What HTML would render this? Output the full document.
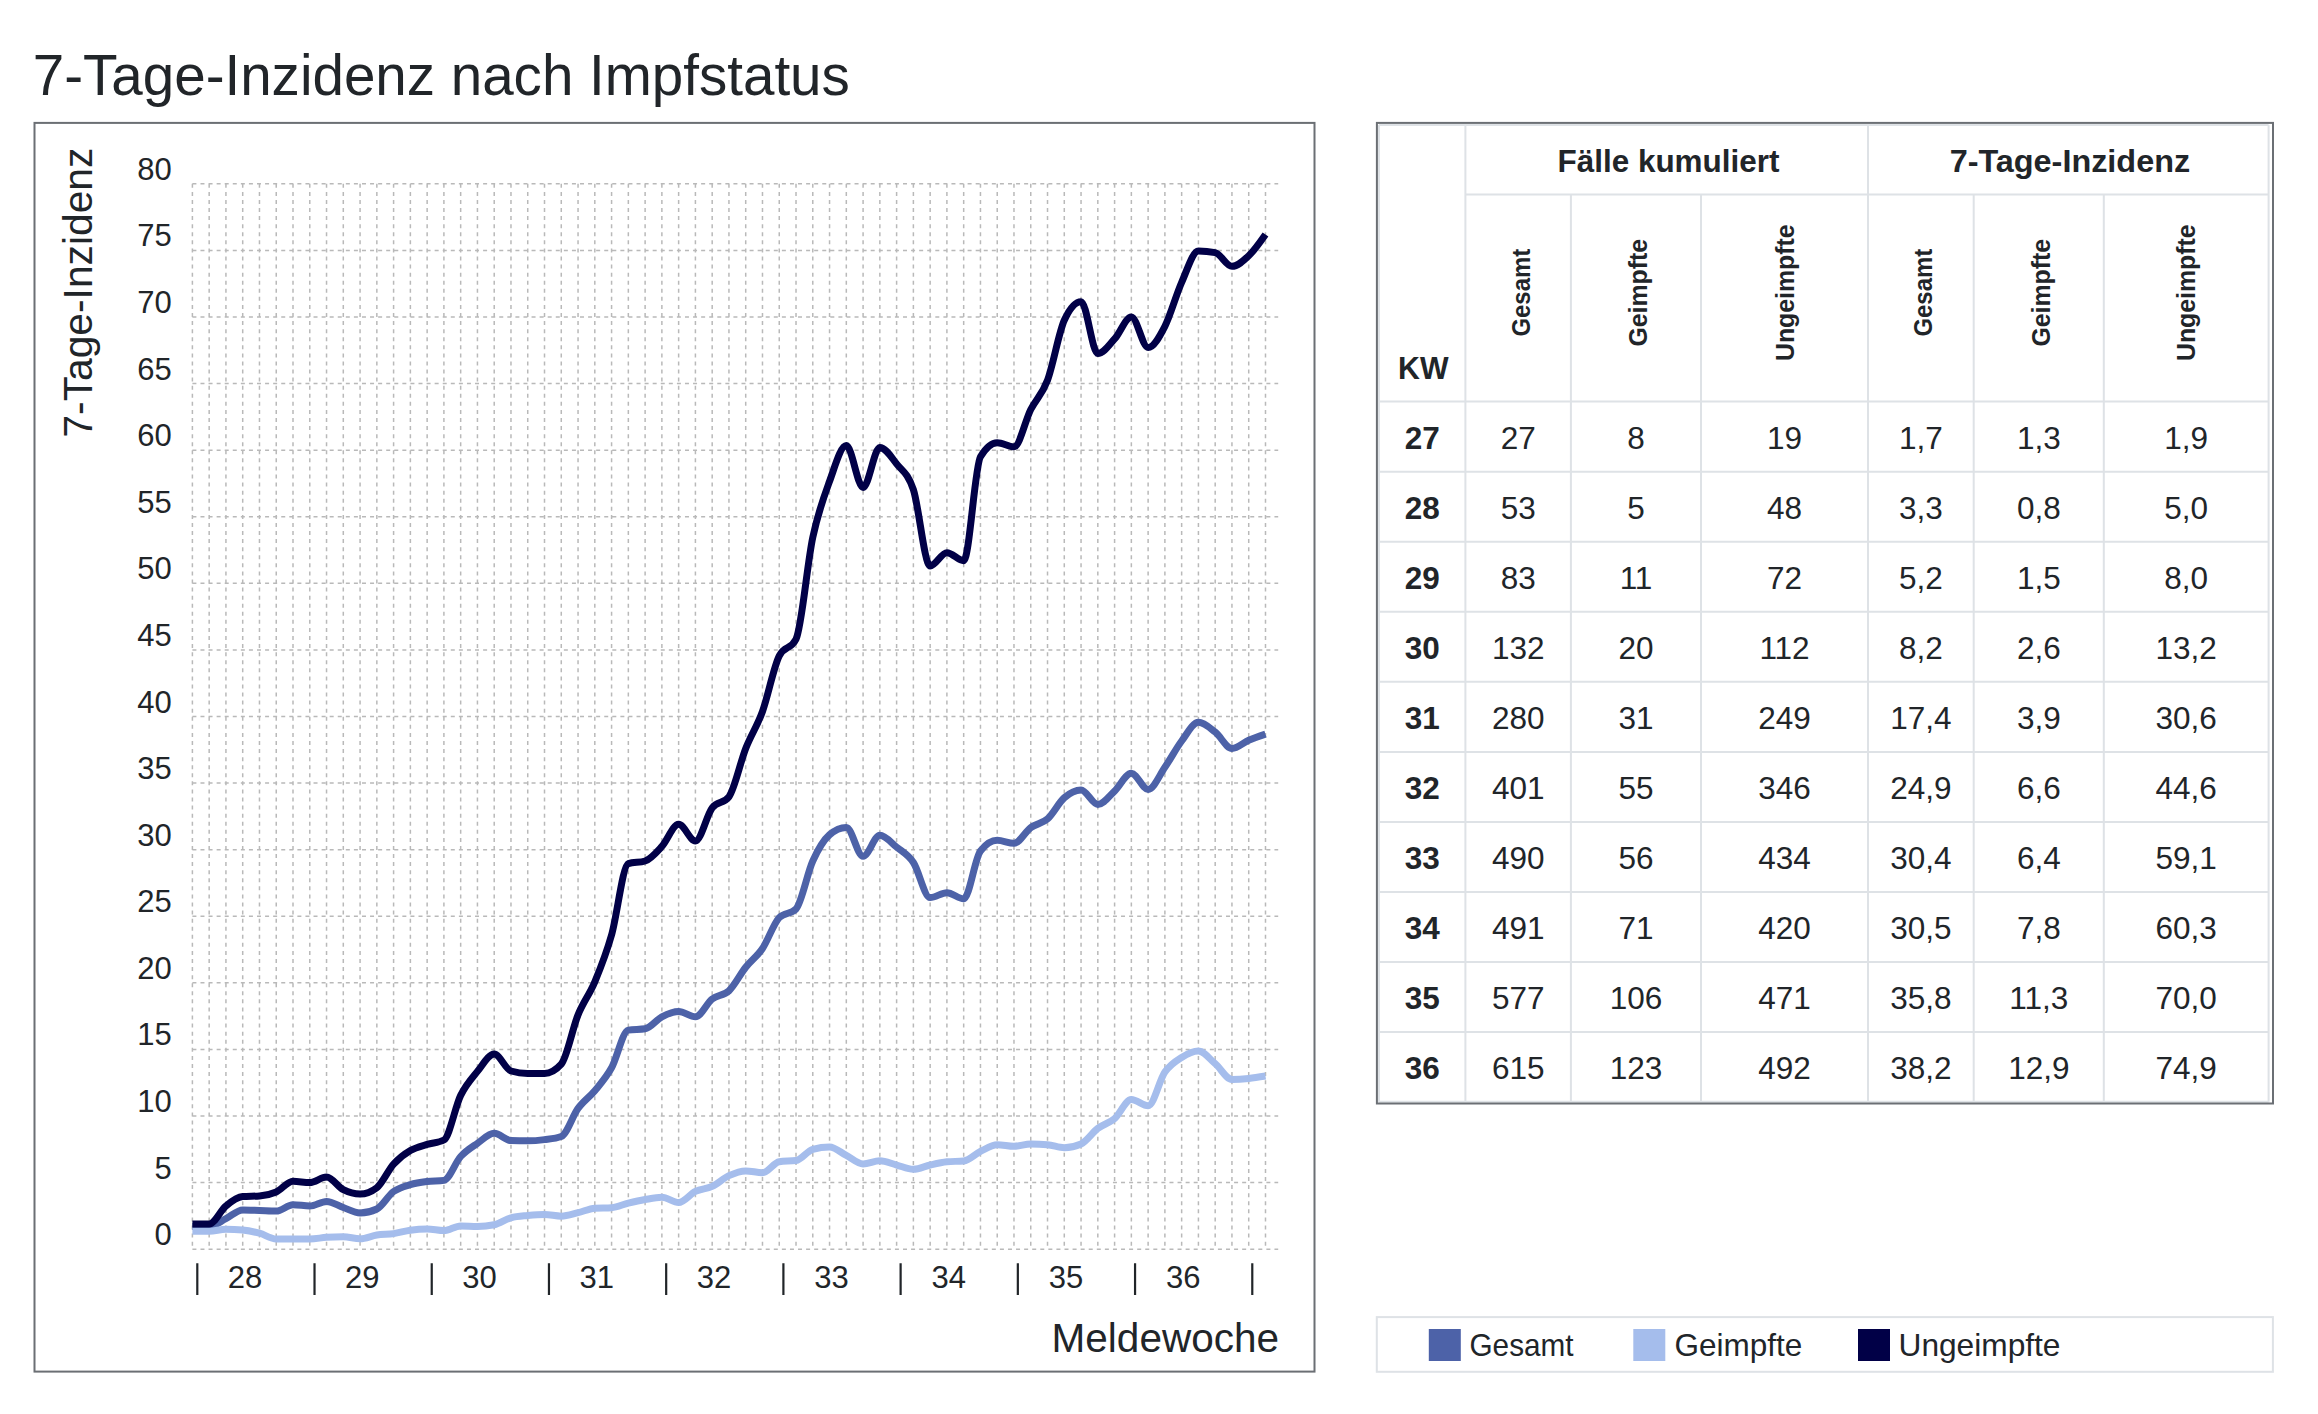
<!DOCTYPE html>
<html lang="de"><head><meta charset="utf-8"><title>7-Tage-Inzidenz nach Impfstatus</title>
<style>html,body{margin:0;padding:0;background:#fff;overflow:hidden}svg{display:block}text{font-family:'Liberation Sans', Arial, sans-serif;fill:#212529}</style>
</head><body>
<svg width="2318" height="1414" viewBox="0 0 2318 1414">
<rect width="2318" height="1414" fill="#fff"/>
<text x="32.8" y="94.9" font-size="57" textLength="817" lengthAdjust="spacingAndGlyphs">7-Tage-Inzidenz nach Impfstatus</text>
<rect x="34.5" y="122.9" width="1280" height="1248.7" fill="none" stroke="#6b6f74" stroke-width="2"/>
<path d="M192.4,1249.20H1278.2M192.4,1182.61H1278.2M192.4,1116.03H1278.2M192.4,1049.44H1278.2M192.4,982.85H1278.2M192.4,916.26H1278.2M192.4,849.67H1278.2M192.4,783.09H1278.2M192.4,716.50H1278.2M192.4,649.91H1278.2M192.4,583.33H1278.2M192.4,516.74H1278.2M192.4,450.15H1278.2M192.4,383.56H1278.2M192.4,316.98H1278.2M192.4,250.39H1278.2M192.4,183.80H1278.2M192.40,183.8V1249.2M209.17,183.8V1249.2M225.93,183.8V1249.2M242.70,183.8V1249.2M259.47,183.8V1249.2M276.24,183.8V1249.2M293.00,183.8V1249.2M309.77,183.8V1249.2M326.54,183.8V1249.2M343.30,183.8V1249.2M360.07,183.8V1249.2M376.84,183.8V1249.2M393.60,183.8V1249.2M410.37,183.8V1249.2M427.14,183.8V1249.2M443.90,183.8V1249.2M460.67,183.8V1249.2M477.44,183.8V1249.2M494.21,183.8V1249.2M510.97,183.8V1249.2M527.74,183.8V1249.2M544.51,183.8V1249.2M561.27,183.8V1249.2M578.04,183.8V1249.2M594.81,183.8V1249.2M611.58,183.8V1249.2M628.34,183.8V1249.2M645.11,183.8V1249.2M661.88,183.8V1249.2M678.64,183.8V1249.2M695.41,183.8V1249.2M712.18,183.8V1249.2M728.94,183.8V1249.2M745.71,183.8V1249.2M762.48,183.8V1249.2M779.25,183.8V1249.2M796.01,183.8V1249.2M812.78,183.8V1249.2M829.55,183.8V1249.2M846.31,183.8V1249.2M863.08,183.8V1249.2M879.85,183.8V1249.2M896.61,183.8V1249.2M913.38,183.8V1249.2M930.15,183.8V1249.2M946.91,183.8V1249.2M963.68,183.8V1249.2M980.45,183.8V1249.2M997.22,183.8V1249.2M1013.98,183.8V1249.2M1030.75,183.8V1249.2M1047.52,183.8V1249.2M1064.28,183.8V1249.2M1081.05,183.8V1249.2M1097.82,183.8V1249.2M1114.59,183.8V1249.2M1131.35,183.8V1249.2M1148.12,183.8V1249.2M1164.89,183.8V1249.2M1181.65,183.8V1249.2M1198.42,183.8V1249.2M1215.19,183.8V1249.2M1231.95,183.8V1249.2M1248.72,183.8V1249.2M1265.49,183.8V1249.2" fill="none" stroke="#b9b9b9" stroke-width="1.5" stroke-dasharray="4 4.075"/>
<text x="171.7" y="1245.2" font-size="31" text-anchor="end">0</text>
<text x="171.7" y="1178.6" font-size="31" text-anchor="end">5</text>
<text x="171.7" y="1112.0" font-size="31" text-anchor="end">10</text>
<text x="171.7" y="1045.4" font-size="31" text-anchor="end">15</text>
<text x="171.7" y="978.9" font-size="31" text-anchor="end">20</text>
<text x="171.7" y="912.3" font-size="31" text-anchor="end">25</text>
<text x="171.7" y="845.7" font-size="31" text-anchor="end">30</text>
<text x="171.7" y="779.1" font-size="31" text-anchor="end">35</text>
<text x="171.7" y="712.5" font-size="31" text-anchor="end">40</text>
<text x="171.7" y="645.9" font-size="31" text-anchor="end">45</text>
<text x="171.7" y="579.3" font-size="31" text-anchor="end">50</text>
<text x="171.7" y="512.7" font-size="31" text-anchor="end">55</text>
<text x="171.7" y="446.1" font-size="31" text-anchor="end">60</text>
<text x="171.7" y="379.6" font-size="31" text-anchor="end">65</text>
<text x="171.7" y="313.0" font-size="31" text-anchor="end">70</text>
<text x="171.7" y="246.4" font-size="31" text-anchor="end">75</text>
<text x="171.7" y="179.8" font-size="31" text-anchor="end">80</text>
<text transform="translate(91.5,437.6) rotate(-90)" font-size="41" textLength="290" lengthAdjust="spacingAndGlyphs">7-Tage-Inzidenz</text>
<path d="M197.30,1263.3V1295M314.52,1263.3V1295M431.74,1263.3V1295M548.96,1263.3V1295M666.18,1263.3V1295M783.40,1263.3V1295M900.62,1263.3V1295M1017.84,1263.3V1295M1135.06,1263.3V1295M1252.28,1263.3V1295" stroke="#212529" stroke-width="2.2" fill="none"/>
<text x="244.9" y="1288.1" font-size="31" text-anchor="middle">28</text>
<text x="362.2" y="1288.1" font-size="31" text-anchor="middle">29</text>
<text x="479.5" y="1288.1" font-size="31" text-anchor="middle">30</text>
<text x="596.8" y="1288.1" font-size="31" text-anchor="middle">31</text>
<text x="714.1" y="1288.1" font-size="31" text-anchor="middle">32</text>
<text x="831.4" y="1288.1" font-size="31" text-anchor="middle">33</text>
<text x="948.7" y="1288.1" font-size="31" text-anchor="middle">34</text>
<text x="1066.0" y="1288.1" font-size="31" text-anchor="middle">35</text>
<text x="1183.3" y="1288.1" font-size="31" text-anchor="middle">36</text>
<text x="1279" y="1351.6" font-size="40.5" text-anchor="end">Meldewoche</text>
<path d="M192.40,1226.56C197.99,1226.56 203.58,1226.56 209.17,1226.56C214.76,1226.56 220.34,1221.48 225.93,1218.70C231.52,1215.93 237.11,1209.91 242.70,1209.91C248.29,1209.91 253.88,1210.25 259.47,1210.45C265.06,1210.65 270.65,1211.11 276.24,1211.11C281.82,1211.11 287.41,1204.72 293.00,1204.72C298.59,1204.72 304.18,1205.92 309.77,1205.92C315.36,1205.92 320.95,1201.39 326.54,1201.39C332.12,1201.39 337.71,1205.59 343.30,1207.52C348.89,1209.45 354.48,1212.98 360.07,1212.98C365.66,1212.98 371.25,1211.64 376.84,1208.98C382.43,1206.32 388.02,1195.60 393.60,1191.54C399.19,1187.47 404.78,1186.27 410.37,1184.61C415.96,1182.95 421.55,1182.26 427.14,1181.55C432.73,1180.84 438.32,1181.15 443.90,1180.35C449.49,1179.55 455.08,1162.68 460.67,1156.51C466.26,1150.34 471.85,1147.19 477.44,1143.33C483.03,1139.46 488.62,1133.34 494.21,1133.34C499.80,1133.34 505.38,1140.35 510.97,1140.53C516.56,1140.71 522.15,1140.80 527.74,1140.80C533.33,1140.80 538.92,1140.31 544.51,1139.60C550.10,1138.89 555.68,1138.58 561.27,1136.53C566.86,1134.49 572.45,1116.07 578.04,1108.43C583.63,1100.80 589.22,1097.49 594.81,1090.72C600.40,1083.95 605.99,1077.91 611.58,1067.82C617.16,1057.72 622.75,1031.01 628.34,1030.13C633.93,1029.24 639.52,1029.68 645.11,1028.80C650.70,1027.91 656.29,1019.70 661.88,1016.81C667.47,1013.92 673.05,1011.48 678.64,1011.48C684.23,1011.48 689.82,1016.81 695.41,1016.81C701.00,1016.81 706.59,1003.29 712.18,998.96C717.77,994.64 723.35,996.12 728.94,990.84C734.53,985.56 740.12,974.33 745.71,967.27C751.30,960.21 756.89,956.77 762.48,948.49C768.07,940.21 773.66,923.37 779.25,917.59C784.83,911.82 790.42,914.71 796.01,908.94C801.60,903.17 807.19,873.36 812.78,860.99C818.37,848.63 823.96,839.64 829.55,834.76C835.13,829.88 840.72,827.43 846.31,827.43C851.90,827.43 857.49,856.33 863.08,856.33C868.67,856.33 874.26,835.29 879.85,835.29C885.44,835.29 891.02,842.62 896.61,847.14C902.20,851.67 907.79,854.05 913.38,862.46C918.97,870.87 924.56,897.62 930.15,897.62C935.74,897.62 941.33,892.69 946.91,892.69C952.50,892.69 958.09,898.82 963.68,898.82C969.27,898.82 974.86,858.11 980.45,851.01C986.04,843.90 991.63,840.35 997.22,840.35C1002.80,840.35 1008.39,843.28 1013.98,843.28C1019.57,843.28 1025.16,831.63 1030.75,827.57C1036.34,823.51 1041.93,823.88 1047.52,818.91C1053.11,813.94 1058.70,802.55 1064.28,797.74C1069.87,792.92 1075.46,790.01 1081.05,790.01C1086.64,790.01 1092.23,804.40 1097.82,804.40C1103.41,804.40 1109.00,796.27 1114.59,791.08C1120.17,785.88 1125.76,773.23 1131.35,773.23C1136.94,773.23 1142.53,789.48 1148.12,789.48C1153.71,789.48 1159.30,775.32 1164.89,767.24C1170.47,759.16 1176.06,748.48 1181.65,741.00C1187.24,733.52 1192.83,722.36 1198.42,722.36C1204.01,722.36 1209.60,727.73 1215.19,732.08C1220.78,736.43 1226.37,748.46 1231.95,748.46C1237.54,748.46 1243.13,742.60 1248.72,740.21C1254.31,737.81 1259.90,735.94 1265.49,734.08" fill="none" stroke="#4d62a8" stroke-width="7" stroke-linejoin="round" stroke-linecap="butt"/>
<path d="M192.40,1231.35C197.99,1231.35 203.58,1231.35 209.17,1231.35C214.76,1231.35 220.34,1229.22 225.93,1229.22C231.52,1229.22 237.11,1229.49 242.70,1230.02C248.29,1230.56 253.88,1231.73 259.47,1233.22C265.06,1234.71 270.65,1238.95 276.24,1238.95C281.82,1238.95 287.41,1238.95 293.00,1238.95C298.59,1238.95 304.18,1238.95 309.77,1238.95C315.36,1238.95 320.95,1237.70 326.54,1237.35C332.12,1236.99 337.71,1236.81 343.30,1236.81C348.89,1236.81 354.48,1238.81 360.07,1238.81C365.66,1238.81 371.25,1235.95 376.84,1235.08C382.43,1234.22 388.02,1234.44 393.60,1233.62C399.19,1232.80 404.78,1230.93 410.37,1230.16C415.96,1229.38 421.55,1228.96 427.14,1228.96C432.73,1228.96 438.32,1230.56 443.90,1230.56C449.49,1230.56 455.08,1225.89 460.67,1225.89C466.26,1225.89 471.85,1226.43 477.44,1226.43C483.03,1226.43 488.62,1225.85 494.21,1224.70C499.80,1223.54 505.38,1219.28 510.97,1217.77C516.56,1216.26 522.15,1216.06 527.74,1215.51C533.33,1214.95 538.92,1214.44 544.51,1214.44C550.10,1214.44 555.68,1216.17 561.27,1216.17C566.86,1216.17 572.45,1214.04 578.04,1212.71C583.63,1211.38 589.22,1208.54 594.81,1208.18C600.40,1207.83 605.99,1208.00 611.58,1207.65C617.16,1207.29 622.75,1204.48 628.34,1203.12C633.93,1201.77 639.52,1200.50 645.11,1199.53C650.70,1198.55 656.29,1197.26 661.88,1197.26C667.47,1197.26 673.05,1202.46 678.64,1202.46C684.23,1202.46 689.82,1194.09 695.41,1191.40C701.00,1188.72 706.59,1188.96 712.18,1186.34C717.77,1183.72 723.35,1178.26 728.94,1175.69C734.53,1173.11 740.12,1170.89 745.71,1170.89C751.30,1170.89 756.89,1172.76 762.48,1172.76C768.07,1172.76 773.66,1162.50 779.25,1161.70C784.83,1160.90 790.42,1161.30 796.01,1160.51C801.60,1159.71 807.19,1150.83 812.78,1149.32C818.37,1147.81 823.96,1147.05 829.55,1147.05C835.13,1147.05 840.72,1152.63 846.31,1155.44C851.90,1158.26 857.49,1163.97 863.08,1163.97C868.67,1163.97 874.26,1160.77 879.85,1160.77C885.44,1160.77 891.02,1163.61 896.61,1165.03C902.20,1166.45 907.79,1169.30 913.38,1169.30C918.97,1169.30 924.56,1166.28 930.15,1165.03C935.74,1163.79 941.33,1162.46 946.91,1161.84C952.50,1161.22 958.09,1161.53 963.68,1160.90C969.27,1160.28 974.86,1154.16 980.45,1151.45C986.04,1148.74 991.63,1144.66 997.22,1144.66C1002.80,1144.66 1008.39,1146.26 1013.98,1146.26C1019.57,1146.26 1025.16,1143.99 1030.75,1143.99C1036.34,1143.99 1041.93,1144.21 1047.52,1144.66C1053.11,1145.10 1058.70,1147.72 1064.28,1147.72C1069.87,1147.72 1075.46,1146.48 1081.05,1143.99C1086.64,1141.51 1092.23,1132.65 1097.82,1128.41C1103.41,1124.17 1109.00,1123.37 1114.59,1118.56C1120.17,1113.74 1125.76,1099.51 1131.35,1099.51C1136.94,1099.51 1142.53,1105.77 1148.12,1105.77C1153.71,1105.77 1159.30,1080.13 1164.89,1072.08C1170.47,1064.02 1176.06,1060.93 1181.65,1057.43C1187.24,1053.92 1192.83,1051.04 1198.42,1051.04C1204.01,1051.04 1209.60,1058.96 1215.19,1063.69C1220.78,1068.41 1226.37,1079.40 1231.95,1079.40C1237.54,1079.40 1243.13,1079.02 1248.72,1078.47C1254.31,1077.91 1259.90,1076.99 1265.49,1076.07" fill="none" stroke="#a5bdec" stroke-width="7" stroke-linejoin="round" stroke-linecap="butt"/>
<path d="M192.40,1223.90C197.99,1223.90 203.58,1223.90 209.17,1223.90C214.76,1223.90 220.34,1210.47 225.93,1205.92C231.52,1201.37 237.11,1197.04 242.70,1196.60C248.29,1196.15 253.88,1196.37 259.47,1195.93C265.06,1195.49 270.65,1194.38 276.24,1191.93C281.82,1189.49 287.41,1181.28 293.00,1181.28C298.59,1181.28 304.18,1182.61 309.77,1182.61C315.36,1182.61 320.95,1177.02 326.54,1177.02C332.12,1177.02 337.71,1186.83 343.30,1189.67C348.89,1192.51 354.48,1194.07 360.07,1194.07C365.66,1194.07 371.25,1191.93 376.84,1187.67C382.43,1183.41 388.02,1170.29 393.60,1164.10C399.19,1157.91 404.78,1153.80 410.37,1150.52C415.96,1147.23 421.55,1146.14 427.14,1144.39C432.73,1142.64 438.32,1142.93 443.90,1140.00C449.49,1137.07 455.08,1106.81 460.67,1095.38C466.26,1083.95 471.85,1078.29 477.44,1071.41C483.03,1064.53 488.62,1054.10 494.21,1054.10C499.80,1054.10 505.38,1069.41 510.97,1071.01C516.56,1072.61 522.15,1073.41 527.74,1073.41C533.33,1073.41 538.92,1073.41 544.51,1073.41C550.10,1073.41 555.68,1070.30 561.27,1064.09C566.86,1057.87 572.45,1028.53 578.04,1014.81C583.63,1001.09 589.22,995.10 594.81,981.78C600.40,968.47 605.99,954.59 611.58,934.91C617.16,915.22 622.75,865.43 628.34,863.66C633.93,861.88 639.52,862.77 645.11,860.99C650.70,859.22 656.29,852.58 661.88,846.48C667.47,840.37 673.05,824.37 678.64,824.37C684.23,824.37 689.82,840.89 695.41,840.89C701.00,840.89 706.59,815.20 712.18,807.86C717.77,800.51 723.35,804.17 728.94,796.80C734.53,789.44 740.12,762.69 745.71,748.46C751.30,734.23 756.89,726.87 762.48,711.44C768.07,696.01 773.66,667.00 779.25,655.91C784.83,644.81 790.42,650.36 796.01,639.26C801.60,628.16 807.19,563.70 812.78,537.38C818.37,511.06 823.96,496.61 829.55,481.31C835.13,466.02 840.72,445.62 846.31,445.62C851.90,445.62 857.49,487.44 863.08,487.44C868.67,487.44 874.26,447.49 879.85,447.49C885.44,447.49 891.02,456.83 896.61,463.87C902.20,470.90 907.79,472.68 913.38,489.70C918.97,506.73 924.56,566.01 930.15,566.01C935.74,566.01 941.33,552.69 946.91,552.69C952.50,552.69 958.09,560.69 963.68,560.69C969.27,560.69 974.86,466.22 980.45,456.81C986.04,447.40 991.63,442.69 997.22,442.69C1002.80,442.69 1008.39,446.82 1013.98,446.82C1019.57,446.82 1025.16,420.63 1030.75,409.53C1036.34,398.43 1041.93,395.10 1047.52,380.23C1053.11,365.36 1058.70,332.73 1064.28,320.30C1069.87,307.87 1075.46,301.66 1081.05,301.66C1086.64,301.66 1092.23,353.60 1097.82,353.60C1103.41,353.60 1109.00,345.05 1114.59,338.95C1120.17,332.85 1125.76,316.98 1131.35,316.98C1136.94,316.98 1142.53,347.61 1148.12,347.61C1153.71,347.61 1159.30,337.17 1164.89,326.30C1170.47,315.42 1176.06,294.91 1181.65,282.35C1187.24,269.79 1192.83,250.92 1198.42,250.92C1204.01,250.92 1209.60,251.50 1215.19,252.65C1220.78,253.81 1226.37,266.37 1231.95,266.37C1237.54,266.37 1243.13,261.04 1248.72,255.71C1254.31,250.39 1259.90,242.40 1265.49,234.41" fill="none" stroke="#010047" stroke-width="7" stroke-linejoin="round" stroke-linecap="butt"/>
<path d="M1379.0,124.9H2268.6M1465.4,194.6H2268.6M1379.0,401.6H2268.6M1379.0,471.7H2268.6M1379.0,541.7H2268.6M1379.0,611.8H2268.6M1379.0,681.8H2268.6M1379.0,751.9H2268.6M1379.0,822.0H2268.6M1379.0,892.0H2268.6M1379.0,962.1H2268.6M1379.0,1032.1H2268.6M1379.0,1101.7H2268.6M1379.0,124.9V1102.2M1465.4,124.9V1102.2M1570.9,194.6V1102.2M1701.0,194.6V1102.2M1868.0,124.9V1102.2M1973.7,194.6V1102.2M2103.8,194.6V1102.2M2268.6,124.9V1102.2" stroke="#dee2e6" stroke-width="2" fill="none"/>
<rect x="1376.9" y="122.9" width="896.1" height="980.6" fill="none" stroke="#6b6f74" stroke-width="2"/>
<text x="1668.5" y="171.7" font-size="31.5" font-weight="bold" text-anchor="middle" textLength="222" lengthAdjust="spacingAndGlyphs">Fälle kumuliert</text>
<text x="2069.9" y="171.7" font-size="31.5" font-weight="bold" text-anchor="middle" textLength="240.5" lengthAdjust="spacingAndGlyphs">7-Tage-Inzidenz</text>
<text x="1398" y="378.5" font-size="31.5" font-weight="bold" textLength="50.5" lengthAdjust="spacingAndGlyphs">KW</text>
<text transform="translate(1529.8,292.7) rotate(-90)" font-size="26.5" font-weight="bold" text-anchor="middle" textLength="87.6" lengthAdjust="spacingAndGlyphs">Gesamt</text>
<text transform="translate(1647.0,292.7) rotate(-90)" font-size="26.5" font-weight="bold" text-anchor="middle" textLength="107.7" lengthAdjust="spacingAndGlyphs">Geimpfte</text>
<text transform="translate(1793.7,292.7) rotate(-90)" font-size="26.5" font-weight="bold" text-anchor="middle" textLength="136.7" lengthAdjust="spacingAndGlyphs">Ungeimpfte</text>
<text transform="translate(1932.4,292.7) rotate(-90)" font-size="26.5" font-weight="bold" text-anchor="middle" textLength="87.6" lengthAdjust="spacingAndGlyphs">Gesamt</text>
<text transform="translate(2049.8,292.7) rotate(-90)" font-size="26.5" font-weight="bold" text-anchor="middle" textLength="107.7" lengthAdjust="spacingAndGlyphs">Geimpfte</text>
<text transform="translate(2195.4,292.7) rotate(-90)" font-size="26.5" font-weight="bold" text-anchor="middle" textLength="136.7" lengthAdjust="spacingAndGlyphs">Ungeimpfte</text>
<text x="1422.2" y="448.7" font-size="31.5" font-weight="bold" text-anchor="middle">27</text>
<text x="1518.2" y="448.7" font-size="31.5" text-anchor="middle">27</text>
<text x="1636.0" y="448.7" font-size="31.5" text-anchor="middle">8</text>
<text x="1784.5" y="448.7" font-size="31.5" text-anchor="middle">19</text>
<text x="1920.8" y="448.7" font-size="31.5" text-anchor="middle">1,7</text>
<text x="2038.8" y="448.7" font-size="31.5" text-anchor="middle">1,3</text>
<text x="2186.2" y="448.7" font-size="31.5" text-anchor="middle">1,9</text>
<text x="1422.2" y="518.8" font-size="31.5" font-weight="bold" text-anchor="middle">28</text>
<text x="1518.2" y="518.8" font-size="31.5" text-anchor="middle">53</text>
<text x="1636.0" y="518.8" font-size="31.5" text-anchor="middle">5</text>
<text x="1784.5" y="518.8" font-size="31.5" text-anchor="middle">48</text>
<text x="1920.8" y="518.8" font-size="31.5" text-anchor="middle">3,3</text>
<text x="2038.8" y="518.8" font-size="31.5" text-anchor="middle">0,8</text>
<text x="2186.2" y="518.8" font-size="31.5" text-anchor="middle">5,0</text>
<text x="1422.2" y="588.8" font-size="31.5" font-weight="bold" text-anchor="middle">29</text>
<text x="1518.2" y="588.8" font-size="31.5" text-anchor="middle">83</text>
<text x="1636.0" y="588.8" font-size="31.5" text-anchor="middle">11</text>
<text x="1784.5" y="588.8" font-size="31.5" text-anchor="middle">72</text>
<text x="1920.8" y="588.8" font-size="31.5" text-anchor="middle">5,2</text>
<text x="2038.8" y="588.8" font-size="31.5" text-anchor="middle">1,5</text>
<text x="2186.2" y="588.8" font-size="31.5" text-anchor="middle">8,0</text>
<text x="1422.2" y="658.9" font-size="31.5" font-weight="bold" text-anchor="middle">30</text>
<text x="1518.2" y="658.9" font-size="31.5" text-anchor="middle">132</text>
<text x="1636.0" y="658.9" font-size="31.5" text-anchor="middle">20</text>
<text x="1784.5" y="658.9" font-size="31.5" text-anchor="middle">112</text>
<text x="1920.8" y="658.9" font-size="31.5" text-anchor="middle">8,2</text>
<text x="2038.8" y="658.9" font-size="31.5" text-anchor="middle">2,6</text>
<text x="2186.2" y="658.9" font-size="31.5" text-anchor="middle">13,2</text>
<text x="1422.2" y="728.9" font-size="31.5" font-weight="bold" text-anchor="middle">31</text>
<text x="1518.2" y="728.9" font-size="31.5" text-anchor="middle">280</text>
<text x="1636.0" y="728.9" font-size="31.5" text-anchor="middle">31</text>
<text x="1784.5" y="728.9" font-size="31.5" text-anchor="middle">249</text>
<text x="1920.8" y="728.9" font-size="31.5" text-anchor="middle">17,4</text>
<text x="2038.8" y="728.9" font-size="31.5" text-anchor="middle">3,9</text>
<text x="2186.2" y="728.9" font-size="31.5" text-anchor="middle">30,6</text>
<text x="1422.2" y="799.0" font-size="31.5" font-weight="bold" text-anchor="middle">32</text>
<text x="1518.2" y="799.0" font-size="31.5" text-anchor="middle">401</text>
<text x="1636.0" y="799.0" font-size="31.5" text-anchor="middle">55</text>
<text x="1784.5" y="799.0" font-size="31.5" text-anchor="middle">346</text>
<text x="1920.8" y="799.0" font-size="31.5" text-anchor="middle">24,9</text>
<text x="2038.8" y="799.0" font-size="31.5" text-anchor="middle">6,6</text>
<text x="2186.2" y="799.0" font-size="31.5" text-anchor="middle">44,6</text>
<text x="1422.2" y="869.1" font-size="31.5" font-weight="bold" text-anchor="middle">33</text>
<text x="1518.2" y="869.1" font-size="31.5" text-anchor="middle">490</text>
<text x="1636.0" y="869.1" font-size="31.5" text-anchor="middle">56</text>
<text x="1784.5" y="869.1" font-size="31.5" text-anchor="middle">434</text>
<text x="1920.8" y="869.1" font-size="31.5" text-anchor="middle">30,4</text>
<text x="2038.8" y="869.1" font-size="31.5" text-anchor="middle">6,4</text>
<text x="2186.2" y="869.1" font-size="31.5" text-anchor="middle">59,1</text>
<text x="1422.2" y="939.1" font-size="31.5" font-weight="bold" text-anchor="middle">34</text>
<text x="1518.2" y="939.1" font-size="31.5" text-anchor="middle">491</text>
<text x="1636.0" y="939.1" font-size="31.5" text-anchor="middle">71</text>
<text x="1784.5" y="939.1" font-size="31.5" text-anchor="middle">420</text>
<text x="1920.8" y="939.1" font-size="31.5" text-anchor="middle">30,5</text>
<text x="2038.8" y="939.1" font-size="31.5" text-anchor="middle">7,8</text>
<text x="2186.2" y="939.1" font-size="31.5" text-anchor="middle">60,3</text>
<text x="1422.2" y="1009.2" font-size="31.5" font-weight="bold" text-anchor="middle">35</text>
<text x="1518.2" y="1009.2" font-size="31.5" text-anchor="middle">577</text>
<text x="1636.0" y="1009.2" font-size="31.5" text-anchor="middle">106</text>
<text x="1784.5" y="1009.2" font-size="31.5" text-anchor="middle">471</text>
<text x="1920.8" y="1009.2" font-size="31.5" text-anchor="middle">35,8</text>
<text x="2038.8" y="1009.2" font-size="31.5" text-anchor="middle">11,3</text>
<text x="2186.2" y="1009.2" font-size="31.5" text-anchor="middle">70,0</text>
<text x="1422.2" y="1079.2" font-size="31.5" font-weight="bold" text-anchor="middle">36</text>
<text x="1518.2" y="1079.2" font-size="31.5" text-anchor="middle">615</text>
<text x="1636.0" y="1079.2" font-size="31.5" text-anchor="middle">123</text>
<text x="1784.5" y="1079.2" font-size="31.5" text-anchor="middle">492</text>
<text x="1920.8" y="1079.2" font-size="31.5" text-anchor="middle">38,2</text>
<text x="2038.8" y="1079.2" font-size="31.5" text-anchor="middle">12,9</text>
<text x="2186.2" y="1079.2" font-size="31.5" text-anchor="middle">74,9</text>
<rect x="1376.8" y="1317.1" width="896.1" height="54.7" fill="none" stroke="#dee2e6" stroke-width="2"/>
<rect x="1428.8" y="1329" width="32" height="32" fill="#4d62a8"/>
<rect x="1633.3" y="1329" width="32" height="32" fill="#a5bdec"/>
<rect x="1858.0" y="1329" width="32" height="32" fill="#010047"/>
<text x="1469.5" y="1356.3" font-size="31.5" textLength="104" lengthAdjust="spacingAndGlyphs">Gesamt</text>
<text x="1674.5" y="1356.3" font-size="31.5">Geimpfte</text>
<text x="1898.5" y="1356.3" font-size="31.5" textLength="162" lengthAdjust="spacingAndGlyphs">Ungeimpfte</text>
</svg></body></html>
